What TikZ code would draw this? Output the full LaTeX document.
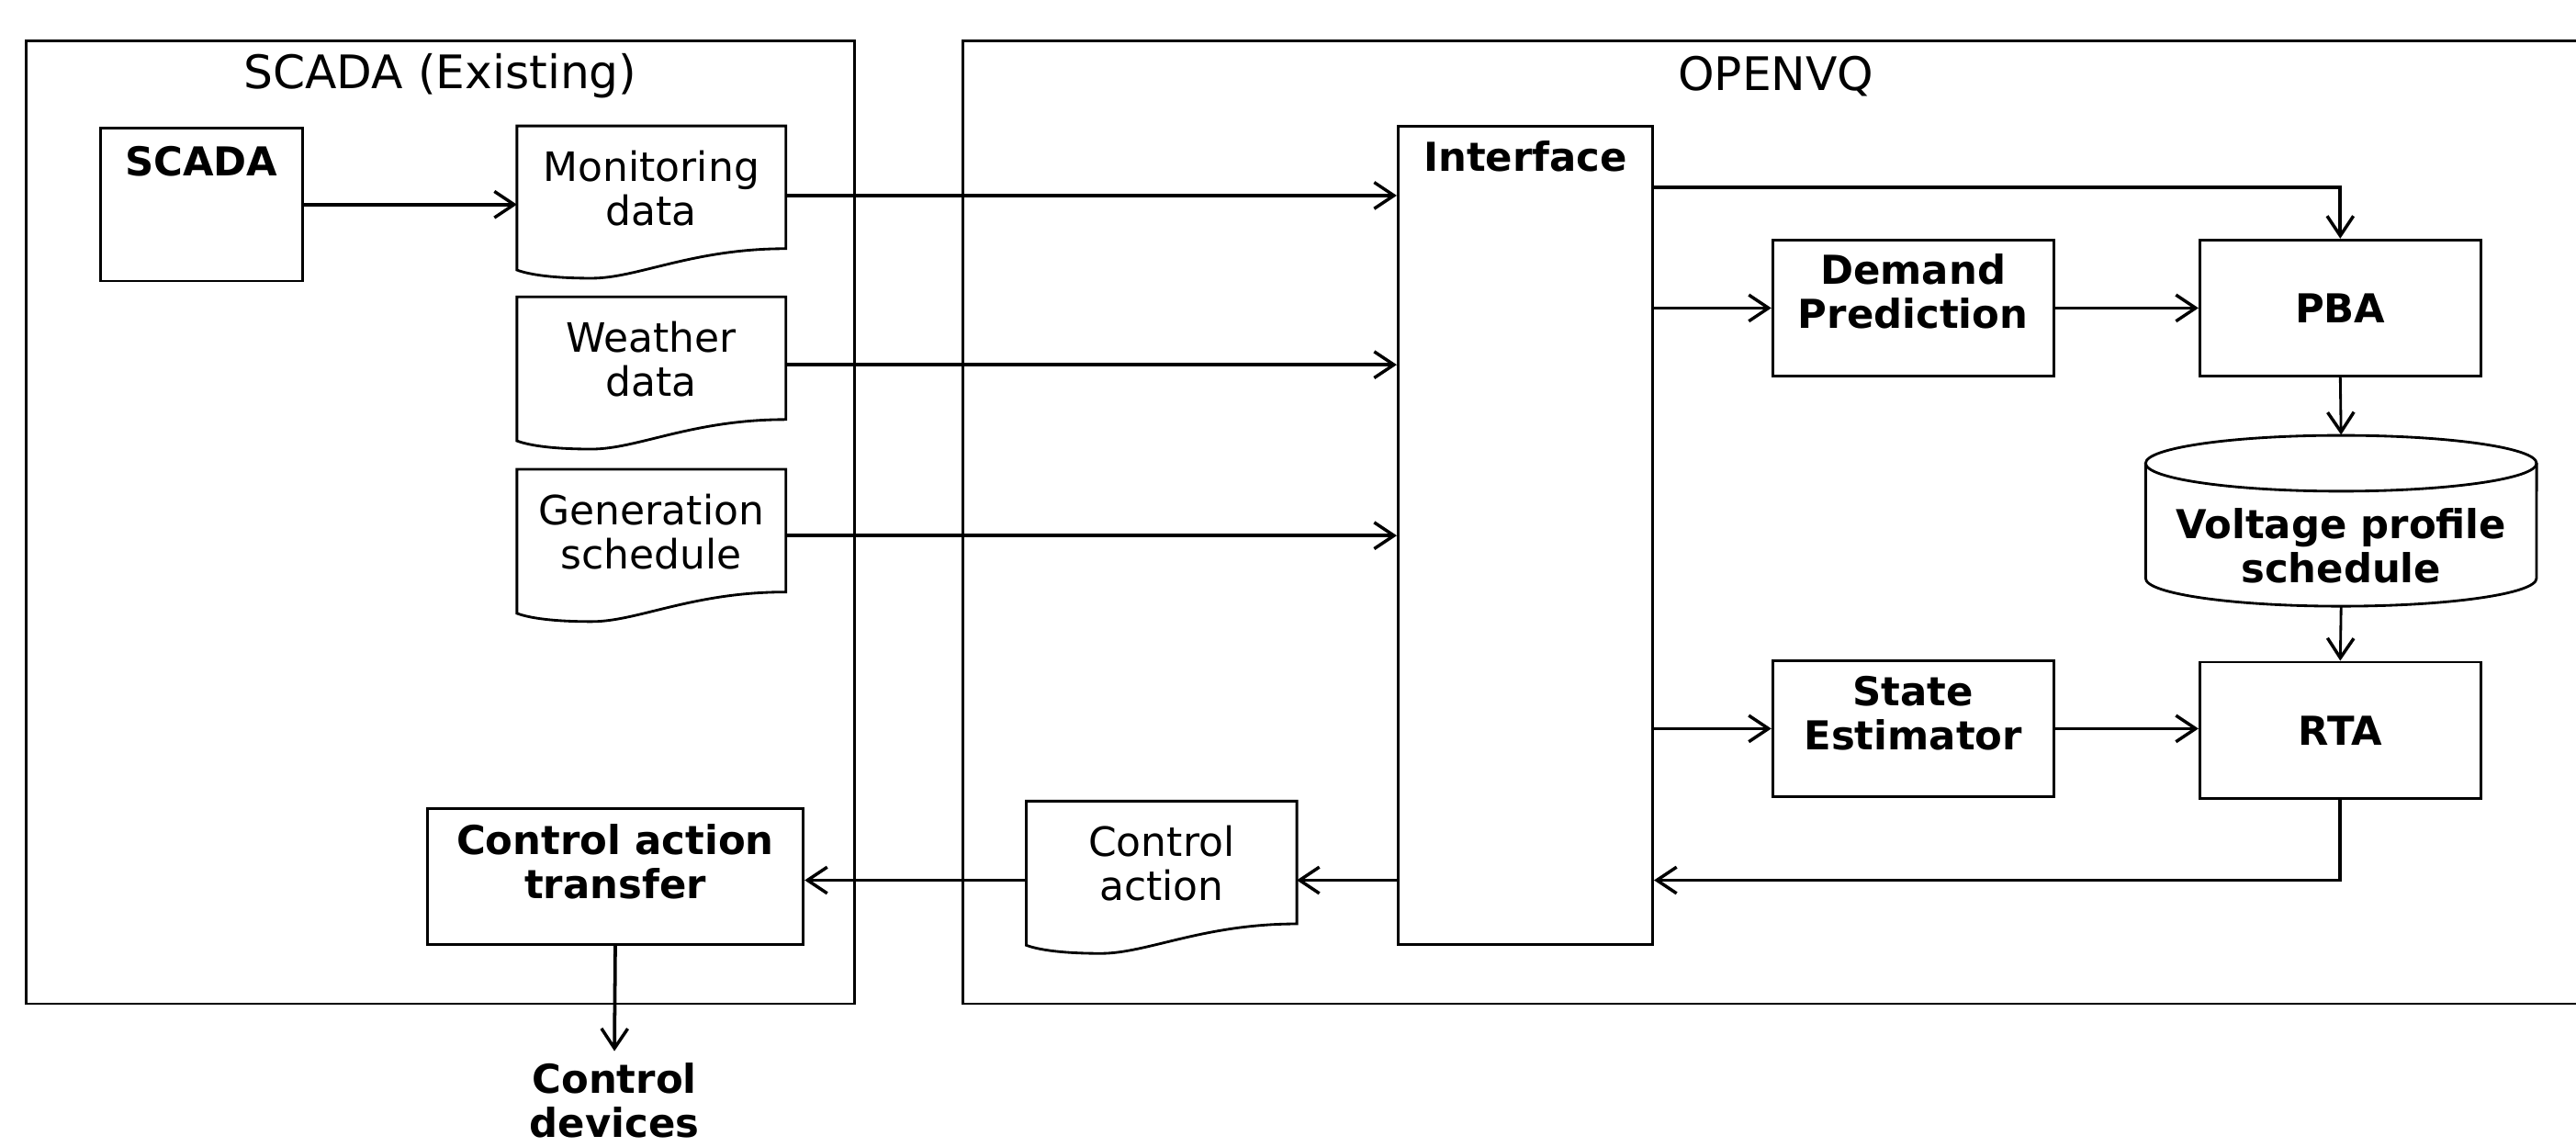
\documentclass[tikz,border=0pt]{standalone}
\usepackage{fontspec}
\setmainfont{DejaVu Sans}
\usetikzlibrary{arrows.meta,fit,calc}
\newcommand\docpath[1]{%
  \draw[boxline] (#1.north west) -- (#1.north east) -- ([yshift=0.26cm]#1.south east)
    .. controls ([xshift=-1.14cm,yshift=0.26cm]#1.south east) and ([xshift=1.47cm,yshift=-0.1cm]#1.south west)
    .. ([xshift=0.91cm,yshift=-0.1cm]#1.south west)
    .. controls ([xshift=0.46cm,yshift=-0.1cm]#1.south west) and ([xshift=0.16cm,yshift=-0.06cm]#1.south west)
    .. (#1.south west) -- cycle;}
\begin{document}
\begin{tikzpicture}[x=0.02cm,y=-0.02cm,
  boxline/.style={line width=0.9pt},
  box/.style={draw, line width=0.9pt, inner sep=0pt},
  frame/.style={inner sep=0pt},
  txt/.style={font=\fontsize{14}{15.3}\selectfont, align=center, inner sep=0pt},
  txtb/.style={font=\bfseries\fontsize{13.8}{15.3}\selectfont, align=center, inner sep=0pt},
  ttl/.style={font=\fontsize{16}{19}\selectfont, inner sep=0pt},
  arr/.style={-{Straight Barb[length=2.4mm,width=3.2mm,line width=1.1pt]}, line width=1.2pt},
  arrthin/.style={arr, line width=0.9pt}]
\useasboundingbox (0,0) rectangle (1568,698);

% outer containers
\node[box, fit={(16,25) (520,611)},
  label={[ttl, anchor=center, yshift=-0.44cm]north:SCADA (Existing)}] (scadaOuter) {};
\node[box, fit={(586,25) (1576,611)},
  label={[ttl, anchor=center, yshift=-0.44cm]north:OPENVQ}] (openvq) {};

% SCADA side
\node[box, fit={(61,78) (184,171)},
  label={[txtb, anchor=center, yshift=-0.42cm]north:SCADA}] (scada) {};
\node[frame, fit={(315,77) (478,164)},
  label={[txt, yshift=0.12cm]center:{Monitoring\\data}}] (mon) {};
\node[frame, fit={(315,181) (478,268)},
  label={[txt, yshift=0.12cm]center:{Weather\\data}}] (wea) {};
\node[frame, fit={(315,286) (478,373)},
  label={[txt, yshift=0.12cm]center:{Generation\\schedule}}] (gen) {};
\node[box, fit={(260,492) (489,575)},
  label={[txtb, yshift=0.18cm]center:{Control action\\transfer}}] (cat) {};
\node[txtb, inner ysep=0.14cm] (dev) at (374,670) {Control\\devices};

% OPENVQ side
\node[frame, fit={(625,488) (789,575)},
  label={[txt, yshift=0.12cm]center:{Control\\action}}] (ctl) {};
\node[box, fit={(851,77) (1006,575)},
  label={[txtb, anchor=center, yshift=-0.38cm]north:Interface}] (iface) {};
\node[box, fit={(1079,146) (1250,229)},
  label={[txtb, yshift=0.2cm]center:{Demand\\Prediction}}] (dem) {};
\node[box, fit={(1339,146) (1510,229)},
  label={[txtb]center:PBA}] (pba) {};
\node[frame, fit={(1306,265) (1544,369)},
  label={[txtb, yshift=-0.3cm]center:{Voltage profile\\schedule}}] (cyl) {};
\node[box, fit={(1079,402) (1250,485)},
  label={[txtb, yshift=0.19cm]center:{State\\Estimator}}] (est) {};
\node[box, fit={(1339,403) (1510,486)},
  label={[txtb]center:RTA}] (rta) {};

% document shapes
\docpath{mon}
\docpath{wea}
\docpath{gen}
\docpath{ctl}

% cylinder
\draw[boxline] (1306,282) -- (1306,352)
  arc[start angle=180, end angle=360, x radius=2.38cm, y radius=0.34cm] -- (1544,282);
\draw[boxline] (1425,282) ellipse [x radius=2.38cm, y radius=0.34cm];

% connectors
\draw[arr] (scada.east) -- (scada.east -| mon.west);
\draw[arr] ([yshift=0.03cm]mon.east) -- ([yshift=0.03cm]mon.east -| iface.west);
\draw[arr] ([yshift=0.05cm]wea.east) -- ([yshift=0.05cm]wea.east -| iface.west);
\draw[arr] ([yshift=0.07cm]gen.east) -- ([yshift=0.07cm]gen.east -| iface.west);
\draw[arr] ([yshift=-0.76cm]iface.north east) -| (pba.north);
\draw[arr] (iface.east |- dem.west) -- (dem.west);
\draw[arr] (dem.east) -- (pba.west);
\draw[arrthin] (pba.south) -- (cyl.north);
\draw[arrthin] (cyl.south) -- (rta.north);
\draw[arr] (iface.east |- est.west) -- (est.west);
\draw[arr] (est.east) -- (est.east -| rta.west);
\draw[arr] (rta.south) |- ([yshift=0.8cm]iface.south east);
\draw[arr] ([yshift=0.8cm]iface.south west) -- ([yshift=0.8cm]iface.south west -| ctl.east);
\draw[arr] ([yshift=0.8cm]iface.south west -| ctl.west) -- ([yshift=0.8cm]iface.south west -| cat.east);
\draw[arr] (cat.south) -- (dev.north);
\end{tikzpicture}
\end{document}
